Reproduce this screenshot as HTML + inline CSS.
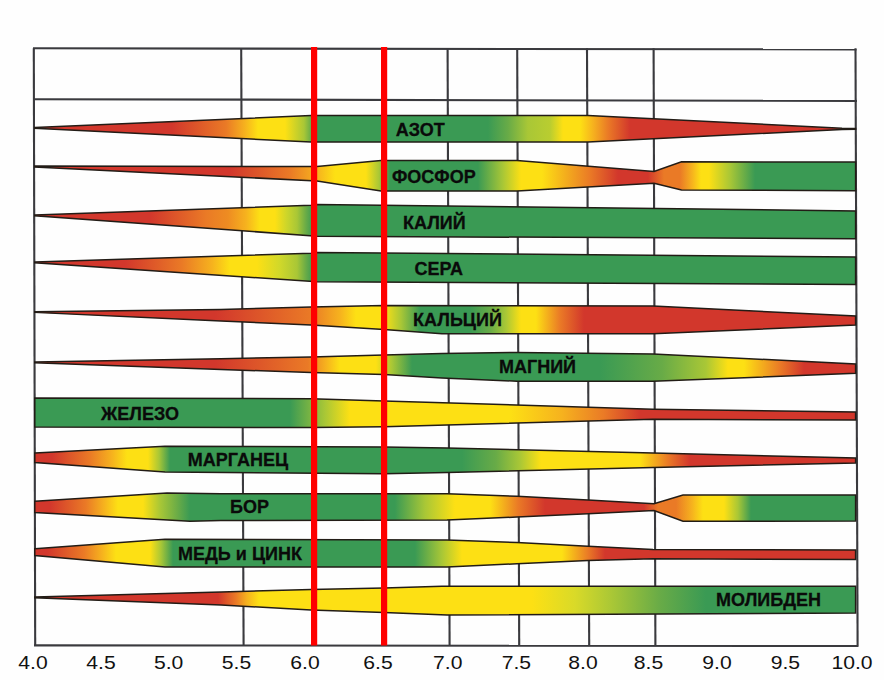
<!DOCTYPE html>
<html><head><meta charset="utf-8"><title>pH</title>
<style>
html,body{margin:0;padding:0;background:#fff;}
body{width:884px;height:680px;overflow:hidden;font-family:"Liberation Sans",sans-serif;}
svg{display:block;}
.lb{font-family:"Liberation Sans",sans-serif;font-weight:bold;font-size:17.5px;fill:#0a0a0a;stroke:#0a0a0a;stroke-width:0.28px;}
.ax{font-family:"Liberation Sans",sans-serif;font-size:18.5px;fill:#111;}
</style></head><body>
<svg width="884" height="680" viewBox="0 0 884 680">
<defs><linearGradient id="g_azot" gradientUnits="userSpaceOnUse" x1="0" y1="0" x2="884" y2="0"><stop offset="0.0373" stop-color="#d2372c"/><stop offset="0.1946" stop-color="#d2372c"/><stop offset="0.2557" stop-color="#ea7a26"/><stop offset="0.2771" stop-color="#f6b21e"/><stop offset="0.2919" stop-color="#fde014"/><stop offset="0.3224" stop-color="#fde014"/><stop offset="0.3439" stop-color="#a9c736"/><stop offset="0.3575" stop-color="#3a9a54"/><stop offset="0.5520" stop-color="#3a9a54"/><stop offset="0.5747" stop-color="#68ab47"/><stop offset="0.5973" stop-color="#a9c736"/><stop offset="0.6222" stop-color="#b9cd30"/><stop offset="0.6369" stop-color="#fde014"/><stop offset="0.6561" stop-color="#fde014"/><stop offset="0.6708" stop-color="#f6b21e"/><stop offset="0.6878" stop-color="#ea7a26"/><stop offset="0.7127" stop-color="#d2372c"/><stop offset="0.9679" stop-color="#d2372c"/></linearGradient><linearGradient id="g_fosfor" gradientUnits="userSpaceOnUse" x1="0" y1="0" x2="884" y2="0"><stop offset="0.0373" stop-color="#d2372c"/><stop offset="0.2602" stop-color="#d2372c"/><stop offset="0.3281" stop-color="#ea7a26"/><stop offset="0.3586" stop-color="#f6b21e"/><stop offset="0.3790" stop-color="#fde014"/><stop offset="0.4140" stop-color="#fde014"/><stop offset="0.4287" stop-color="#a9c736"/><stop offset="0.4412" stop-color="#3a9a54"/><stop offset="0.5407" stop-color="#3a9a54"/><stop offset="0.5690" stop-color="#a9c736"/><stop offset="0.5894" stop-color="#fde014"/><stop offset="0.6131" stop-color="#fde014"/><stop offset="0.6674" stop-color="#ea7a26"/><stop offset="0.6991" stop-color="#d2372c"/><stop offset="0.7330" stop-color="#d2372c"/><stop offset="0.7511" stop-color="#ea7a26"/><stop offset="0.7692" stop-color="#ea7a26"/><stop offset="0.7828" stop-color="#f6b21e"/><stop offset="0.7930" stop-color="#fde014"/><stop offset="0.8020" stop-color="#fde014"/><stop offset="0.8258" stop-color="#a9c736"/><stop offset="0.8541" stop-color="#3a9a54"/><stop offset="0.9679" stop-color="#3a9a54"/></linearGradient><linearGradient id="g_kaliy" gradientUnits="userSpaceOnUse" x1="0" y1="0" x2="884" y2="0"><stop offset="0.0373" stop-color="#d2372c"/><stop offset="0.1697" stop-color="#d2372c"/><stop offset="0.2330" stop-color="#ea7a26"/><stop offset="0.2579" stop-color="#ee8c22"/><stop offset="0.2783" stop-color="#f6b21e"/><stop offset="0.2941" stop-color="#fde014"/><stop offset="0.3111" stop-color="#fde014"/><stop offset="0.3247" stop-color="#cbd52b"/><stop offset="0.3360" stop-color="#a9c736"/><stop offset="0.3462" stop-color="#68ab47"/><stop offset="0.3541" stop-color="#3a9a54"/><stop offset="0.9679" stop-color="#3a9a54"/></linearGradient><linearGradient id="g_sera" gradientUnits="userSpaceOnUse" x1="0" y1="0" x2="884" y2="0"><stop offset="0.0373" stop-color="#d2372c"/><stop offset="0.1414" stop-color="#d2372c"/><stop offset="0.2059" stop-color="#ea7a26"/><stop offset="0.2398" stop-color="#f6b21e"/><stop offset="0.2602" stop-color="#fde014"/><stop offset="0.2907" stop-color="#fde014"/><stop offset="0.3167" stop-color="#d0d82a"/><stop offset="0.3360" stop-color="#a9c736"/><stop offset="0.3462" stop-color="#68ab47"/><stop offset="0.3541" stop-color="#3a9a54"/><stop offset="0.9679" stop-color="#3a9a54"/></linearGradient><linearGradient id="g_kalciy" gradientUnits="userSpaceOnUse" x1="0" y1="0" x2="884" y2="0"><stop offset="0.0373" stop-color="#d2372c"/><stop offset="0.2432" stop-color="#d2372c"/><stop offset="0.3518" stop-color="#ea7a26"/><stop offset="0.3846" stop-color="#f6b21e"/><stop offset="0.4027" stop-color="#fde014"/><stop offset="0.4344" stop-color="#fde014"/><stop offset="0.4536" stop-color="#a9c736"/><stop offset="0.4751" stop-color="#3a9a54"/><stop offset="0.5317" stop-color="#3a9a54"/><stop offset="0.5543" stop-color="#68ab47"/><stop offset="0.5724" stop-color="#a9c736"/><stop offset="0.5894" stop-color="#fde014"/><stop offset="0.6063" stop-color="#fde014"/><stop offset="0.6335" stop-color="#ea7a26"/><stop offset="0.6606" stop-color="#d2372c"/><stop offset="0.9679" stop-color="#d2372c"/></linearGradient><linearGradient id="g_magniy" gradientUnits="userSpaceOnUse" x1="0" y1="0" x2="884" y2="0"><stop offset="0.0373" stop-color="#d2372c"/><stop offset="0.2432" stop-color="#d2372c"/><stop offset="0.3484" stop-color="#ea7a26"/><stop offset="0.3688" stop-color="#f6b21e"/><stop offset="0.3846" stop-color="#fde014"/><stop offset="0.4253" stop-color="#fde014"/><stop offset="0.4434" stop-color="#a9c736"/><stop offset="0.4661" stop-color="#3a9a54"/><stop offset="0.6787" stop-color="#3a9a54"/><stop offset="0.7489" stop-color="#68ab47"/><stop offset="0.7986" stop-color="#a9c736"/><stop offset="0.8235" stop-color="#fde014"/><stop offset="0.8416" stop-color="#fde014"/><stop offset="0.8824" stop-color="#ea7a26"/><stop offset="0.9095" stop-color="#d2372c"/><stop offset="0.9679" stop-color="#d2372c"/></linearGradient><linearGradient id="g_zhelezo" gradientUnits="userSpaceOnUse" x1="0" y1="0" x2="884" y2="0"><stop offset="0.0373" stop-color="#3a9a54"/><stop offset="0.3281" stop-color="#3a9a54"/><stop offset="0.3676" stop-color="#a9c736"/><stop offset="0.3959" stop-color="#fde014"/><stop offset="0.5769" stop-color="#fde014"/><stop offset="0.6357" stop-color="#f6b21e"/><stop offset="0.6833" stop-color="#ea7a26"/><stop offset="0.7240" stop-color="#d2372c"/><stop offset="0.9679" stop-color="#d2372c"/></linearGradient><linearGradient id="g_marganets" gradientUnits="userSpaceOnUse" x1="0" y1="0" x2="884" y2="0"><stop offset="0.0373" stop-color="#d2372c"/><stop offset="0.0588" stop-color="#d2372c"/><stop offset="0.1018" stop-color="#ea7a26"/><stop offset="0.1267" stop-color="#f6b21e"/><stop offset="0.1437" stop-color="#fde014"/><stop offset="0.1674" stop-color="#fde014"/><stop offset="0.1799" stop-color="#a9c736"/><stop offset="0.1923" stop-color="#3a9a54"/><stop offset="0.5226" stop-color="#3a9a54"/><stop offset="0.5611" stop-color="#68ab47"/><stop offset="0.5882" stop-color="#a9c736"/><stop offset="0.6120" stop-color="#fde014"/><stop offset="0.7240" stop-color="#fde014"/><stop offset="0.7557" stop-color="#ea7a26"/><stop offset="0.7805" stop-color="#d2372c"/><stop offset="0.9679" stop-color="#d2372c"/></linearGradient><linearGradient id="g_bor" gradientUnits="userSpaceOnUse" x1="0" y1="0" x2="884" y2="0"><stop offset="0.0373" stop-color="#d2372c"/><stop offset="0.0566" stop-color="#d2372c"/><stop offset="0.0973" stop-color="#ea7a26"/><stop offset="0.1176" stop-color="#f6b21e"/><stop offset="0.1335" stop-color="#fde014"/><stop offset="0.1618" stop-color="#fde014"/><stop offset="0.1810" stop-color="#a9c736"/><stop offset="0.2014" stop-color="#68ab47"/><stop offset="0.2149" stop-color="#3a9a54"/><stop offset="0.4468" stop-color="#3a9a54"/><stop offset="0.4808" stop-color="#a9c736"/><stop offset="0.5147" stop-color="#fde014"/><stop offset="0.5543" stop-color="#fde014"/><stop offset="0.5860" stop-color="#ea7a26"/><stop offset="0.6165" stop-color="#d2372c"/><stop offset="0.7285" stop-color="#d2372c"/><stop offset="0.7443" stop-color="#ea7a26"/><stop offset="0.7647" stop-color="#ea7a26"/><stop offset="0.7828" stop-color="#f6b21e"/><stop offset="0.7952" stop-color="#fde014"/><stop offset="0.8190" stop-color="#fde014"/><stop offset="0.8348" stop-color="#a9c736"/><stop offset="0.8495" stop-color="#3a9a54"/><stop offset="0.9679" stop-color="#3a9a54"/></linearGradient><linearGradient id="g_med" gradientUnits="userSpaceOnUse" x1="0" y1="0" x2="884" y2="0"><stop offset="0.0373" stop-color="#d2372c"/><stop offset="0.0532" stop-color="#d2372c"/><stop offset="0.0950" stop-color="#ea7a26"/><stop offset="0.1154" stop-color="#f6b21e"/><stop offset="0.1312" stop-color="#fde014"/><stop offset="0.1697" stop-color="#fde014"/><stop offset="0.1821" stop-color="#a9c736"/><stop offset="0.1957" stop-color="#3a9a54"/><stop offset="0.4695" stop-color="#3a9a54"/><stop offset="0.5000" stop-color="#a9c736"/><stop offset="0.5226" stop-color="#fde014"/><stop offset="0.6357" stop-color="#fde014"/><stop offset="0.6652" stop-color="#ea7a26"/><stop offset="0.6844" stop-color="#d2372c"/><stop offset="0.9679" stop-color="#d2372c"/></linearGradient><linearGradient id="g_molibden" gradientUnits="userSpaceOnUse" x1="0" y1="0" x2="884" y2="0"><stop offset="0.0373" stop-color="#d2372c"/><stop offset="0.2466" stop-color="#d2372c"/><stop offset="0.2670" stop-color="#ea7a26"/><stop offset="0.2794" stop-color="#f6b21e"/><stop offset="0.2930" stop-color="#fde014"/><stop offset="0.6018" stop-color="#fde014"/><stop offset="0.6505" stop-color="#d9da28"/><stop offset="0.6923" stop-color="#a9c736"/><stop offset="0.7466" stop-color="#68ab47"/><stop offset="0.7986" stop-color="#3a9a54"/><stop offset="0.9679" stop-color="#3a9a54"/></linearGradient></defs>
<rect x="0" y="0" width="884" height="680" fill="#fefefe"/>
<line x1="33.8" y1="48.3" x2="35.2" y2="645.6" stroke="#3a3a3e" stroke-width="2.1"/><line x1="241.2" y1="48.3" x2="243.6" y2="645.6" stroke="#3a3a3e" stroke-width="2.1"/><line x1="447.6" y1="48.3" x2="449.6" y2="645.6" stroke="#3a3a3e" stroke-width="2.1"/><line x1="517.2" y1="48.3" x2="519.2" y2="645.6" stroke="#3a3a3e" stroke-width="2.1"/><line x1="587" y1="48.3" x2="589.2" y2="645.6" stroke="#3a3a3e" stroke-width="2.1"/><line x1="653.6" y1="48.3" x2="655.4" y2="645.6" stroke="#3a3a3e" stroke-width="2.1"/><line x1="855.5" y1="48.3" x2="857.6" y2="645.6" stroke="#3a3a3e" stroke-width="2.1"/><line x1="33" y1="48.3" x2="856.5" y2="49.4" stroke="#3a3a3e" stroke-width="2.1"/><line x1="33" y1="99.2" x2="857" y2="100.9" stroke="#3a3a3e" stroke-width="2.1"/><line x1="34" y1="645.4" x2="858.5" y2="645.9" stroke="#3a3a3e" stroke-width="2.1"/>
<polygon points="34.8,127.5 311,115.5 588,115.5 842,128.2 855.6,128.5 855.6,129.2 842,129.5 588,142 311,142 34.8,128.2" fill="url(#g_azot)" stroke="#221c16" stroke-width="1.5" stroke-linejoin="miter"/>
<polygon points="34.8,166 317,166.5 381,160.5 517,160.5 654,171.4 681.5,161.8 855.6,162 855.6,190.75 681.5,190 654,183.3 517,191 381,191 317,181 34.8,167" fill="url(#g_fosfor)" stroke="#221c16" stroke-width="1.5" stroke-linejoin="miter"/>
<polygon points="34.8,215 311,205.3 317,204.6 855.6,210.9 855.6,238.8 317,236.2 34.8,215.7" fill="url(#g_kaliy)" stroke="#221c16" stroke-width="1.5" stroke-linejoin="miter"/>
<polygon points="34.8,262 311,253.3 317,252.4 855.6,257 855.6,284.4 317,281.8 34.8,262.7" fill="url(#g_sera)" stroke="#221c16" stroke-width="1.5" stroke-linejoin="miter"/>
<polygon points="34.8,311.75 221,309.5 311,307 384,305.5 653,306 855.6,316 855.6,325 653,333.75 442,333.75 384,329.5 311,325 221,321 34.8,312.4" fill="url(#g_kalciy)" stroke="#221c16" stroke-width="1.5" stroke-linejoin="miter"/>
<polygon points="34.8,362 221,358.75 311,357 384,355 442,353.5 517,352.4 653,354 855.6,363.9 855.6,373.3 653,381.3 517,381.25 442,378 384,374.5 311,372.5 221,369.5 34.8,362.7" fill="url(#g_magniy)" stroke="#221c16" stroke-width="1.5" stroke-linejoin="miter"/>
<polygon points="34.8,398 311,398.75 384,401 653,409.2 855.6,412 855.6,420 653,419.3 384,426.8 311,427.5 34.8,427" fill="url(#g_zhelezo)" stroke="#221c16" stroke-width="1.5" stroke-linejoin="miter"/>
<polygon points="34.8,453 165,446.25 384,447 447,448 653,453 855.6,458 855.6,463 653,467.5 447,472.5 384,473.75 165,472 34.8,462.5" fill="url(#g_marganets)" stroke="#221c16" stroke-width="1.5" stroke-linejoin="miter"/>
<polygon points="34.8,501.25 167,493 221,493.75 447,493.75 517,496.25 588,500 654,503.75 683,495 855.6,495 855.6,521 683,521.25 654,510.5 588,513.75 517,517 447,520 221,520.5 190,521.25 34.8,512.5" fill="url(#g_bor)" stroke="#221c16" stroke-width="1.5" stroke-linejoin="miter"/>
<polygon points="34.8,548.75 165,539.25 447,540 517,542.5 588,546.25 653,549.5 855.6,550 855.6,559.5 653,558.75 588,560.5 517,563.75 447,567 165,567 34.8,555.5" fill="url(#g_med)" stroke="#221c16" stroke-width="1.5" stroke-linejoin="miter"/>
<polygon points="34.8,597 221,592 311,589.5 384,588 442,586.25 855.6,586.25 855.6,613 447,615 384,612.5 311,610 221,605 34.8,597.7" fill="url(#g_molibden)" stroke="#221c16" stroke-width="1.5" stroke-linejoin="miter"/>
<rect x="311" y="47" width="6.2" height="598.5" fill="#ff0000"/><rect x="381" y="47" width="6.2" height="598.5" fill="#ff0000"/>
<text x="420.3" y="136.2" text-anchor="middle" class="lb" transform="translate(420.3 0) scale(1.03 1) translate(-420.3 0)">АЗОТ</text><text x="433.8" y="182.8" text-anchor="middle" class="lb" transform="translate(433.8 0) scale(1.03 1) translate(-433.8 0)">ФОСФОР</text><text x="434.3" y="228.6" text-anchor="middle" class="lb" transform="translate(434.3 0) scale(1.03 1) translate(-434.3 0)">КАЛИЙ</text><text x="438.8" y="274.6" text-anchor="middle" class="lb" transform="translate(438.8 0) scale(1.03 1) translate(-438.8 0)">СЕРА</text><text x="457.5" y="326" text-anchor="middle" class="lb" transform="translate(457.5 0) scale(1.03 1) translate(-457.5 0)">КАЛЬЦИЙ</text><text x="537.5" y="373" text-anchor="middle" class="lb" transform="translate(537.5 0) scale(1.03 1) translate(-537.5 0)">МАГНИЙ</text><text x="140" y="420" text-anchor="middle" class="lb" transform="translate(140 0) scale(1.03 1) translate(-140 0)">ЖЕЛЕЗО</text><text x="238" y="466.5" text-anchor="middle" class="lb" transform="translate(238 0) scale(1.03 1) translate(-238 0)">МАРГАНЕЦ</text><text x="249.5" y="513" text-anchor="middle" class="lb" transform="translate(249.5 0) scale(1.03 1) translate(-249.5 0)">БОР</text><text x="240" y="560" text-anchor="middle" class="lb" transform="translate(240 0) scale(1.03 1) translate(-240 0)">МЕДЬ и ЦИНК</text><text x="768.6" y="605.7" text-anchor="middle" class="lb" transform="translate(768.6 0) scale(1.03 1) translate(-768.6 0)">МОЛИБДЕН</text><text x="33" y="669" text-anchor="middle" class="ax" transform="translate(33 0) scale(1.143 1) translate(-33 0)">4.0</text><text x="101" y="669" text-anchor="middle" class="ax" transform="translate(101 0) scale(1.143 1) translate(-101 0)">4.5</text><text x="168.7" y="669" text-anchor="middle" class="ax" transform="translate(168.7 0) scale(1.143 1) translate(-168.7 0)">5.0</text><text x="236.5" y="669" text-anchor="middle" class="ax" transform="translate(236.5 0) scale(1.143 1) translate(-236.5 0)">5.5</text><text x="305" y="669" text-anchor="middle" class="ax" transform="translate(305 0) scale(1.143 1) translate(-305 0)">6.0</text><text x="378" y="669" text-anchor="middle" class="ax" transform="translate(378 0) scale(1.143 1) translate(-378 0)">6.5</text><text x="447.7" y="669" text-anchor="middle" class="ax" transform="translate(447.7 0) scale(1.143 1) translate(-447.7 0)">7.0</text><text x="516.4" y="669" text-anchor="middle" class="ax" transform="translate(516.4 0) scale(1.143 1) translate(-516.4 0)">7.5</text><text x="583" y="669" text-anchor="middle" class="ax" transform="translate(583 0) scale(1.143 1) translate(-583 0)">8.0</text><text x="648.5" y="669" text-anchor="middle" class="ax" transform="translate(648.5 0) scale(1.143 1) translate(-648.5 0)">8.5</text><text x="717" y="669" text-anchor="middle" class="ax" transform="translate(717 0) scale(1.143 1) translate(-717 0)">9.0</text><text x="785.4" y="669" text-anchor="middle" class="ax" transform="translate(785.4 0) scale(1.143 1) translate(-785.4 0)">9.5</text><text x="852" y="669" text-anchor="middle" class="ax" transform="translate(852 0) scale(1.143 1) translate(-852 0)">10.0</text>
</svg>
</body></html>
